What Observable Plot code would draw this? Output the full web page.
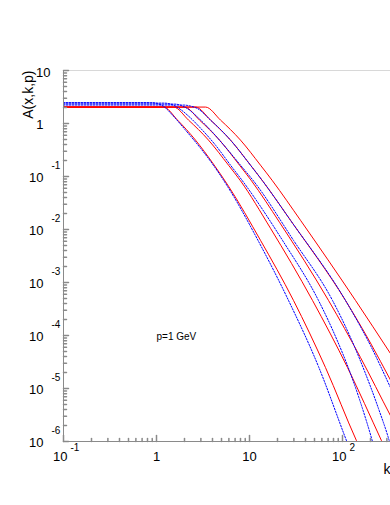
<!DOCTYPE html>
<html><head><meta charset="utf-8">
<script src="https://cdn.jsdelivr.net/npm/d3@7"></script>
<script src="https://cdn.jsdelivr.net/npm/@observablehq/plot@0.6"></script>
<style>
html,body{margin:0;padding:0;background:#fff;overflow:hidden}
#chart{width:390px;height:505px;overflow:hidden}
</style></head><body><div id="chart"></div>
<script>
// ---- data: k (GeV) and A(x,k,p) ----
// red solid curves
const R1_k = [0.1, 1.189, 1.682, 2.627, 4.102, 5.946, 13.13, 29.72, 65.63, 141.4, 164.1];
const R1_A = [2.042, 2.042, 1.160, 0.4857, 0.1708, 0.06553, 6.249e-3, 4.588e-4, 2.484e-5, 1.035e-6, 5.88e-7];
const R2_k = [0.1, 1.523, 2.209, 3.624, 5.946, 8.002, 16.82, 47.58, 113.2, 262.7, 304.7];
const R2_A = [2.042, 2.042, 1.160, 0.4857, 0.1635, 0.08293, 0.01053, 4.588e-4, 2.484e-5, 1.035e-6, 5.88e-7];
const R3_k = [0.1, 2.000, 2.900, 4.759, 7.807, 10.51, 21.02, 70.72, 156.2, 328.1, 420.5];
const R3_A = [2.042, 2.042, 1.160, 0.4857, 0.1635, 0.08293, 0.01368, 4.588e-4, 3.838e-5, 3.074e-6, 1.344e-6];
const R4_k = [0.1, 2.627, 3.808, 6.249, 10.25, 13.80, 27.60, 107.7, 200.0, 328.1, 420.5];
const R4_A = [2.042, 2.042, 1.160, 0.4857, 0.1635, 0.08293, 0.01492, 4.588e-4, 7.216e-5, 1.441e-5, 6.44e-6];
const R5_k = [0.1, 3.365, 4.878, 8.002, 13.13, 17.67, 35.35, 138.0, 328.1, 475.9];
const R5_A = [2.042, 2.042, 1.160, 0.4857, 0.1635, 0.08293, 0.01492, 4.588e-4, 4.567e-5, 1.679e-5];
// blue dotted curves
const B1_k = [0.1, 0.862, 1.025, 1.219, 1.486, 2.050, 2.972, 4.309, 6.249, 12.50, 26.27, 55.20, 110.4, 125.0];
const B1_A = [2.484, 2.484, 2.378, 2.042, 1.441, 0.750, 0.3428, 0.1435, 0.05274, 5.983e-3, 4.588e-4, 2.594e-5, 1.035e-6, 5.88e-7];
const B2_k = [0.1, 1.189, 1.414, 1.724, 2.209, 2.972, 4.309, 6.249, 8.618, 22.63, 55.20, 84.09, 121.9, 164.1, 210.2, 226.4];
const B2_A = [2.430, 2.430, 2.327, 1.955, 1.380, 0.818, 0.3906, 0.1635, 0.07801, 6.249e-3, 4.588e-4, 9.575e-5, 1.913e-5, 4.169e-6, 9.913e-7, 6.14e-7];
const B3_k = [0.1, 1.562, 1.857, 2.264, 2.829, 3.808, 5.520, 8.002, 11.32, 29.72, 78.07, 121.9, 176.7, 243.9, 320.2, 344.9];
const B3_A = [2.327, 2.327, 2.179, 1.792, 1.265, 0.750, 0.3580, 0.1635, 0.07801, 6.249e-3, 4.588e-4, 9.167e-5, 1.913e-5, 4.169e-6, 9.913e-7, 6.14e-7];
const B4_k = [0.1, 1.951, 2.321, 2.760, 3.808, 6.249, 10.25, 13.80, 27.60, 107.7, 200.0, 328.1, 420.5];
const B4_A = [2.227, 2.227, 2.132, 1.913, 1.160, 0.4857, 0.1635, 0.08293, 0.01492, 4.588e-4, 6.471e-5, 1.040e-5, 3.992e-6];

// tick labels
const xTickValues = [0.1, 1, 10, 100];
const xTickBase   = ["10", "1", "10", "10"];
const xTickExp    = ["-1", "", "", "2"];
const yTickValues = [1e-6, 1e-5, 1e-4, 1e-3, 1e-2, 1e-1, 1, 10];
const yTickBase   = ["10", "10", "10", "10", "10", "10", "1", "10"];
const yTickExp    = ["-6", "-5", "-4", "-3", "-2", "-1", "", ""];

const yTitle = "A(x,k,p)";
const xTitle = "k";
const noteText = "p=1 GeV";
const noteK = 1, noteA = 1e-4;

// ---- build tables ----
const mk = (name, ks, As) => ks.map((k, i) => ({name, k, A: As[i]}));
const red = [
  ...mk("R1", R1_k, R1_A), ...mk("R2", R2_k, R2_A), ...mk("R3", R3_k, R3_A),
  ...mk("R4", R4_k, R4_A), ...mk("R5", R5_k, R5_A)
];
const blue = [
  ...mk("B1", B1_k, B1_A), ...mk("B2", B2_k, B2_A), ...mk("B3", B3_k, B3_A), ...mk("B4", B4_k, B4_A)
];
const xLab = xTickValues.map((v, i) => ({v, base: xTickBase[i], exp: xTickExp[i]}));
const yLab = yTickValues.map((v, i) => ({v, base: yTickBase[i], exp: yTickExp[i]}));

const isPow10 = v => Math.abs(Math.log10(v) - Math.round(Math.log10(v))) < 1e-9;
const xAll = d3.scaleLog().domain([0.1, 1000]).ticks();
const yAll = d3.scaleLog().domain([1e-6, 10]).ticks();
const xMaj = xAll.filter(isPow10), xMin = xAll.filter(v => !isPow10(v));
const yMaj = yAll.filter(isPow10), yMin = yAll.filter(v => !isPow10(v));

const tickShape = {draw(ctx, l) { ctx.moveTo(0, 0); ctx.lineTo(0, -l); }};
const axisGray = "#8a8a8a";
const font = "'Liberation Sans', Arial, Helvetica, sans-serif";

const plot = Plot.plot({
  width: 390, height: 505,
  marginLeft: 63, marginRight: 0, marginTop: 70, marginBottom: 64,
  x: {type: "log", domain: [0.1, 1000], range: [63, 435], axis: null},
  y: {type: "log", domain: [1e-6, 10], axis: null},
  style: {fontFamily: font, background: "white", color: "black"},
  marks: [
    Plot.line(red, {x: "k", y: "A", z: "name", stroke: "#ff0000", strokeWidth: 1, curve: "monotone-x", clip: true}),
    Plot.line(blue, {x: "k", y: "A", z: "name", stroke: "#0000ff", strokeWidth: 1, strokeDasharray: "1.5,1.5", curve: "monotone-x", clip: true}),
    // frame
    Plot.ruleY([10], {stroke: "#d8d8d8"}),
    Plot.ruleX([0.1], {stroke: axisGray}),
    Plot.ruleY([1e-6], {stroke: axisGray}),
    // ticks (inward)
    Plot.vector(yMaj, {y: d => d, frameAnchor: "left", rotate: 90, length: 5, anchor: "start", shape: tickShape, stroke: axisGray}),
    Plot.vector(yMin, {y: d => d, frameAnchor: "left", rotate: 90, length: 3, anchor: "start", shape: tickShape, stroke: axisGray}),
    Plot.vector(xMaj.filter(v => v < 500), {x: d => d, frameAnchor: "bottom", rotate: 0, length: 6, anchor: "start", shape: tickShape, stroke: axisGray}),
    Plot.vector(xMin.filter(v => v < 500), {x: d => d, frameAnchor: "bottom", rotate: 0, length: 3, anchor: "start", shape: tickShape, stroke: axisGray}),
    // y tick labels
    Plot.text(yLab.filter(d => d.exp), {y: "v", text: "base", frameAnchor: "left", textAnchor: "end", dx: -20, dy: 1, fontSize: 13}),
    Plot.text(yLab.filter(d => d.exp), {y: "v", text: "exp", frameAnchor: "left", textAnchor: "start", dx: -12, dy: -10.5, fontSize: 10}),
    Plot.text(yLab.filter(d => !d.exp && d.v === 1), {y: "v", text: "base", frameAnchor: "left", textAnchor: "end", dx: -20, dy: 1.5, fontSize: 13}),
    Plot.text(yLab.filter(d => !d.exp && d.v === 10), {y: "v", text: "base", frameAnchor: "left", textAnchor: "end", dx: -13, dy: 2.5, fontSize: 13}),
    // x tick labels
    Plot.text(xLab.filter(d => d.exp), {x: "v", text: "base", frameAnchor: "bottom", textAnchor: "end", dx: 4, dy: 19, fontSize: 13}),
    Plot.text(xLab.filter(d => d.exp), {x: "v", text: "exp", frameAnchor: "bottom", textAnchor: "start", dx: 7, dy: 9.5, fontSize: 10}),
    Plot.text(xLab.filter(d => !d.exp), {x: "v", text: "base", frameAnchor: "bottom", textAnchor: "middle", dx: 0, dy: 19, fontSize: 13}),
    // titles
    Plot.text([yTitle], {text: d => d, frameAnchor: "top-left", rotate: -90, textAnchor: "end", dx: -40.5, dy: 0, fontSize: 14}),
    Plot.text([xTitle], {text: d => d, frameAnchor: "bottom-right", textAnchor: "start", dx: -7, dy: 32.5, fontSize: 14}),
    // annotation
    Plot.text([noteText], {x: () => noteK, y: () => noteA, text: d => d, textAnchor: "start", dy: 1, fontSize: 10})
  ]
});
document.getElementById("chart").appendChild(plot);
</script></body></html>
